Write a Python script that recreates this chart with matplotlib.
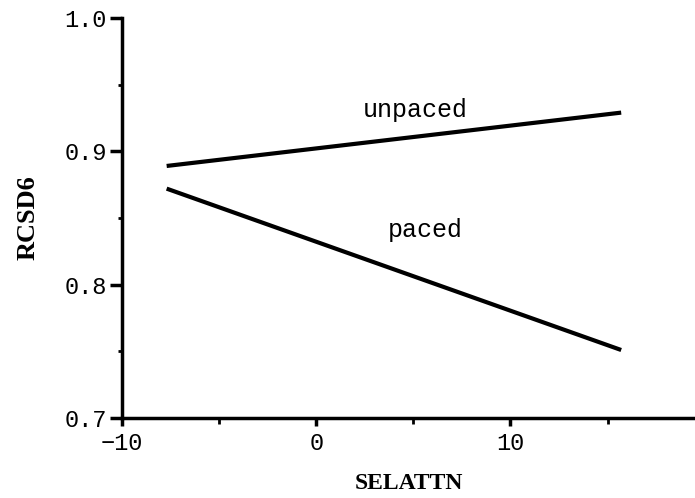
import numpy as np
import matplotlib.pyplot as plt

# fitted lines at low / high SELATTN
selattn = [-7.7, 15.7]
unpaced = [0.889, 0.929]
paced = [0.872, 0.751]

mono = 'Liberation Mono'
serif = 'Liberation Serif'

fig = plt.figure(figsize=(6.95, 4.98), dpi=100)
ax = fig.add_axes([0.1755, 0.1606, 0.8245, 0.8034])

ax.plot(selattn, unpaced, color='black', lw=3, solid_capstyle='butt')
ax.plot(selattn, paced, color='black', lw=3, solid_capstyle='butt')

ax.text(5.1, 0.9256, 'unpaced', family=mono, fontsize=18, ha='center', va='baseline')
ax.text(5.6, 0.836, 'paced', family=mono, fontsize=18, ha='center', va='baseline')

ax.set_xlim(-10, 19.5)
ax.set_ylim(0.7, 1.0)
ax.set_xticks([-10, 0, 10])
ax.set_xticks([-5, 5, 15], minor=True)
ax.set_yticks([0.7, 0.8, 0.9, 1.0])
ax.set_yticks([0.75, 0.85, 0.95], minor=True)
ax.set_yticklabels(['0.7', '0.8', '0.9', '1.0'])

for s in ['top', 'right']:
    ax.spines[s].set_visible(False)
for s in ['left', 'bottom']:
    ax.spines[s].set_linewidth(2.5)

ax.tick_params(axis='x', which='major', direction='out', length=6, width=2.5,
               labelsize=17, pad=4)
ax.tick_params(axis='y', which='major', direction='out', length=9, width=2.5,
               labelsize=17, pad=2)
ax.tick_params(axis='x', which='minor', direction='out', length=4, width=2)
ax.tick_params(axis='y', which='minor', direction='out', length=3, width=2)
for lab in ax.get_xticklabels() + ax.get_yticklabels():
    lab.set_family(mono)

ax.set_xlabel('SELATTN', family=serif, fontweight='bold', fontsize=17, labelpad=13)
ax.set_ylabel('RCSD6', family=serif, fontweight='bold', fontsize=19, labelpad=18)

fig.savefig('out.png', dpi=100)
